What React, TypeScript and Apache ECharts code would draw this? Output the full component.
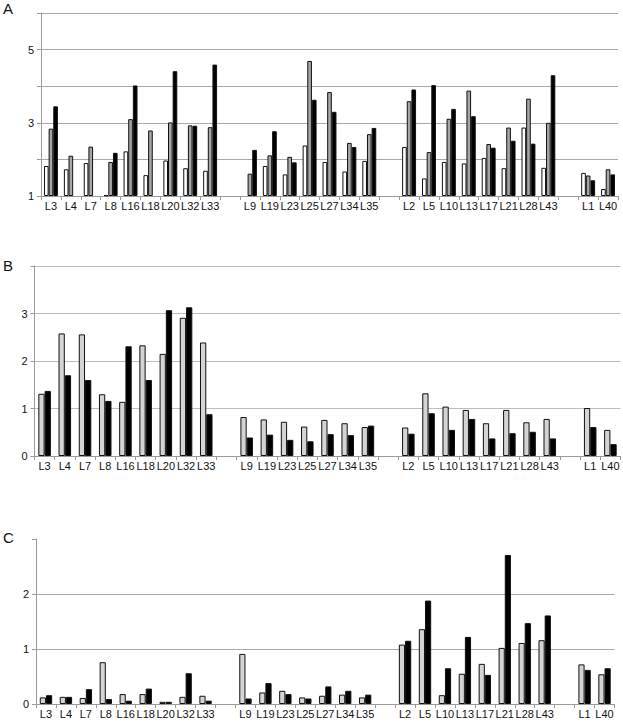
import React, { useEffect, useRef } from "react";
import * as echarts from "echarts";

const categories = [
  "L3", "L4", "L7", "L8", "L16", "L18", "L20", "L32", "L33", " ",
  "L9", "L19", "L23", "L25", "L27", "L34", "L35", "  ",
  "L2", "L5", "L10", "L13", "L17", "L21", "L28", "L43", "   ",
  "L1", "L40",
];

// Panel A (three series)
const aWhite = [1.82, 1.73, 1.9, 1.02, 2.22, 1.57, 1.97, 1.76, 1.69, null,
  null, 1.82, 1.59, 2.38, 1.93, 1.67, 1.96, null,
  2.34, 1.48, 1.93, 1.89, 2.04, 1.76, 2.87, 1.77, null,
  1.63, 1.19];
const aGray = [2.84, 2.1, 2.35, 1.93, 3.1, 2.79, 3.01, 2.93, 2.88, null,
  1.61, 2.11, 2.07, 4.69, 3.84, 2.45, 2.69, null,
  3.59, 2.2, 3.11, 3.88, 2.42, 2.87, 3.66, 3.0, null,
  1.56, 1.73];
const aBlack = [3.45, null, null, 2.18, 4.02, null, 4.41, 2.92, 4.59, null,
  2.26, 2.77, 1.92, 3.63, 3.3, 2.34, 2.86, null,
  3.91, 4.03, 3.38, 3.18, 2.32, 2.51, 2.43, 4.3, null,
  1.43, 1.59];

// Panel B
const bGray = [1.31, 2.58, 2.56, 1.3, 1.14, 2.33, 2.15, 2.91, 2.39, null,
  0.82, 0.77, 0.72, 0.62, 0.76, 0.69, 0.61, null,
  0.6, 1.32, 1.04, 0.97, 0.69, 0.97, 0.71, 0.78, null,
  1.01, 0.55];
const bBlack = [1.37, 1.7, 1.6, 1.16, 2.31, 1.6, 3.07, 3.13, 0.88, null,
  0.39, 0.45, 0.34, 0.31, 0.46, 0.44, 0.64, null,
  0.47, 0.9, 0.55, 0.78, 0.37, 0.48, 0.51, 0.37, null,
  0.61, 0.25];

// Panel C
const cGray = [0.12, 0.13, 0.11, 0.76, 0.18, 0.18, 0.04, 0.13, 0.15, null,
  0.91, 0.21, 0.24, 0.12, 0.15, 0.17, 0.12, null,
  1.08, 1.36, 0.16, 0.55, 0.73, 1.02, 1.11, 1.16, null,
  0.72, 0.54];
const cBlack = [0.16, 0.13, 0.27, 0.09, 0.06, 0.28, 0.04, 0.56, 0.06, null,
  0.1, 0.38, 0.18, 0.1, 0.32, 0.24, 0.17, null,
  1.15, 1.88, 0.65, 1.22, 0.53, 2.71, 1.47, 1.61, null,
  0.62, 0.65];

const panelTitles = ["A", "B", "C"];

const FONT = "'Liberation Sans', Arial, sans-serif";
const AXIS_GRAY = "#9a9a9a";

export default function App() {
  const ref = useRef<HTMLDivElement>(null);

  useEffect(() => {
    if (!ref.current) return;
    const chart = echarts.init(ref.current, null, { renderer: "svg" });

    const xAxisBase = (gridIndex: number) => ({
      type: "category",
      gridIndex,
      data: categories,
      boundaryGap: true,
      axisLine: { show: true, lineStyle: { color: AXIS_GRAY, width: 1 } },
      axisTick: { show: true, length: 4, interval: 0, lineStyle: { color: AXIS_GRAY } },
      axisLabel: { interval: 0, margin: 4, fontSize: 11, color: "#111", fontFamily: FONT },
      splitLine: { show: false },
    });

    const yAxisBase = (gridIndex: number, min: number, max: number, fmt: (v: number) => string, gridColor: string, showMax: boolean) => ({
      type: "value",
      gridIndex,
      min,
      max,
      interval: 1,
      startValue: min,
      axisLine: { show: true, lineStyle: { color: AXIS_GRAY, width: 1 } },
      axisTick: { show: true, length: 4, lineStyle: { color: AXIS_GRAY } },
      axisLabel: { margin: 7, fontSize: 11, color: "#111", fontFamily: FONT, formatter: fmt },
      splitLine: { show: true, showMaxLine: showMax, lineStyle: { color: gridColor, width: 1 } },
    });

    const bar = (name: string, data: (number | null)[], xi: number, color: string, gap: string) => ({
      type: "bar",
      name,
      xAxisIndex: xi,
      yAxisIndex: xi,
      data,
      barGap: "0%",
      barCategoryGap: gap,
      clip: true,
      itemStyle: { color, borderColor: "#111", borderWidth: 1 },
    });

    chart.setOption({
      animation: false,
      title: panelTitles.map((t, i) => ({
        text: t,
        left: 3,
        top: [1, 258, 530][i],
        padding: 0,
        textStyle: { fontSize: 15, fontWeight: "normal", color: "#111", fontFamily: FONT },
      })),
      grid: [
        { left: 41, top: 13, width: 577, height: 183 },
        { left: 34.5, top: 266, width: 586, height: 190 },
        { left: 36, top: 539, width: 578.5, height: 165 },
      ],
      xAxis: [xAxisBase(0), xAxisBase(1), xAxisBase(2)],
      yAxis: [
        yAxisBase(0, 1, 6, (v: number) => (v % 2 === 1 ? String(v) : ""), "#a8a8a8", true),
        yAxisBase(1, 0, 4, (v: number) => (v < 4 ? String(v) : ""), "#bdbdbd", true),
        yAxisBase(2, 0, 3, (v: number) => (v < 3 ? String(v) : ""), "#a8a8a8", false),
      ],
      series: [
        bar("A white", aWhite, 0, "#ffffff", "30%"),
        bar("A gray", aGray, 0, "#a6a6a6", "30%"),
        bar("A black", aBlack, 0, "#000000", "30%"),
        bar("B gray", bGray, 1, "#d4d4d4", "38%"),
        bar("B black", bBlack, 1, "#000000", "38%"),
        bar("C gray", cGray, 2, "#d4d4d4", "38%"),
        bar("C black", cBlack, 2, "#000000", "38%"),
      ],
    });

    return () => chart.dispose();
  }, []);

  return (
    <div
      ref={ref}
      style={{ position: "fixed", left: 0, top: 0, width: 623, height: 722, background: "#fff" }}
    />
  );
}
